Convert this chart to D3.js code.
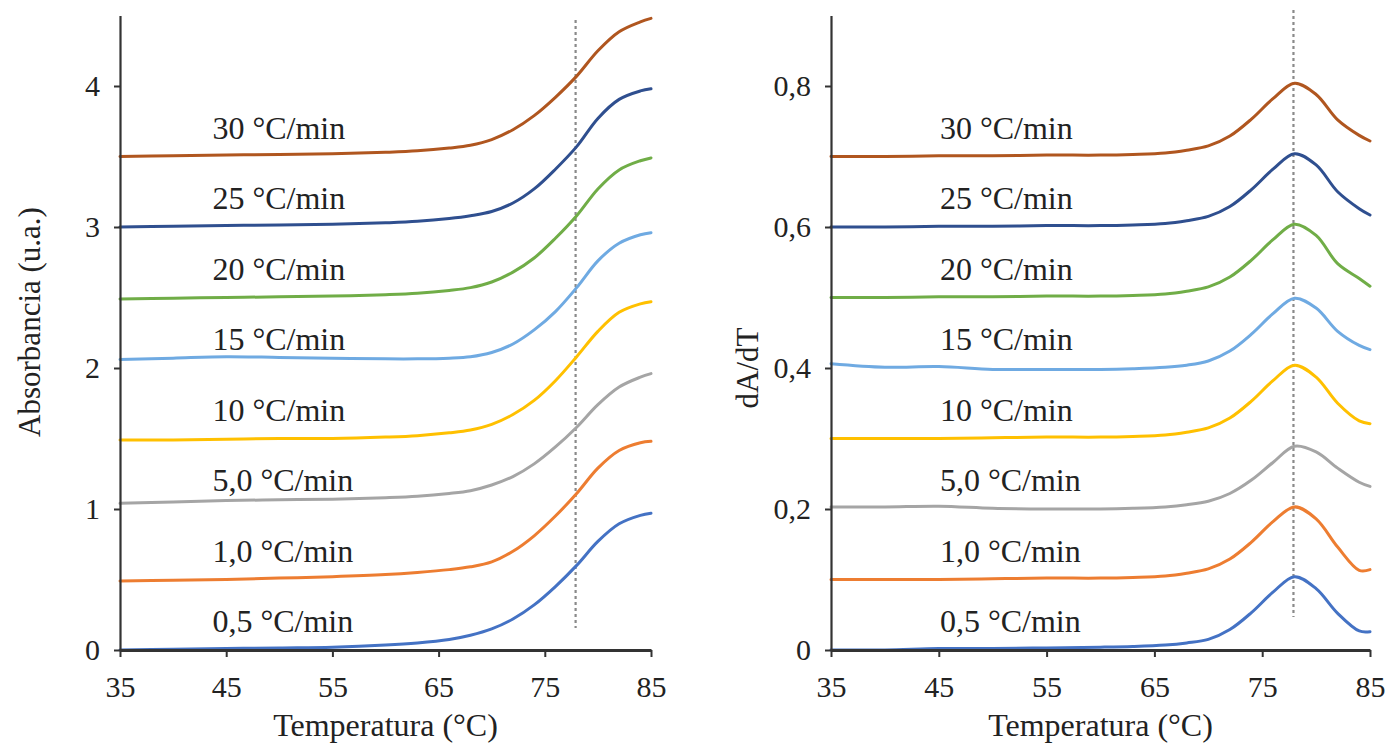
<!DOCTYPE html>
<html>
<head>
<meta charset="utf-8">
<script src="https://cdn.jsdelivr.net/npm/d3@7"></script>
<style>
  html, body { margin: 0; padding: 0; background: #fff; }
  svg { display: block; }
  text { font-family: "Liberation Serif", "Times New Roman", "DejaVu Serif", serif; fill: #222; }
</style>
</head>
<body>
<svg id="chart" width="1390" height="747"></svg>
<script>
// ---------- DATA ----------
const temps = [35, 40, 45, 50, 55, 60, 63, 66, 68, 70, 72, 74, 76, 78, 80, 82, 84, 85];
const seriesNames = ["0,5 °C/min", "1,0 °C/min", "5,0 °C/min", "10 °C/min", "15 °C/min", "20 °C/min", "25 °C/min", "30 °C/min"];
const seriesColors = ["#4472C4", "#ED7D31", "#A5A5A5", "#FFC000", "#6FAAE2", "#70AD47", "#2F4F8F", "#B0561F"];
const absLevels = [0, 0.5, 1, 1.5, 2, 2.5, 3, 3.5];
const derLevels = [0, 0.1, 0.2, 0.3, 0.4, 0.5, 0.6, 0.7];

// Absorbance (left panel)
const abs05  = [0.00, 0.005, 0.01, 0.015, 0.02, 0.035, 0.05, 0.075, 0.105, 0.15, 0.22, 0.32, 0.45, 0.60, 0.77, 0.895, 0.955, 0.97];
const abs10  = [0.49, 0.495, 0.50, 0.51, 0.52, 0.535, 0.55, 0.57, 0.59, 0.625, 0.70, 0.81, 0.95, 1.11, 1.29, 1.415, 1.47, 1.48];
const abs50  = [1.04, 1.05, 1.06, 1.065, 1.07, 1.08, 1.09, 1.11, 1.13, 1.17, 1.23, 1.32, 1.44, 1.58, 1.74, 1.865, 1.935, 1.96];
const abs100 = [1.49, 1.49, 1.495, 1.50, 1.50, 1.51, 1.52, 1.54, 1.56, 1.60, 1.67, 1.77, 1.91, 2.08, 2.26, 2.395, 2.455, 2.47];
const abs150 = [2.06, 2.07, 2.08, 2.075, 2.07, 2.065, 2.065, 2.07, 2.08, 2.11, 2.17, 2.27, 2.40, 2.57, 2.76, 2.885, 2.945, 2.96];
const abs200 = [2.49, 2.495, 2.50, 2.505, 2.51, 2.52, 2.53, 2.55, 2.57, 2.61, 2.68, 2.78, 2.92, 3.08, 3.27, 3.405, 3.47, 3.49];
const abs250 = [3.00, 3.005, 3.01, 3.015, 3.02, 3.03, 3.04, 3.06, 3.08, 3.11, 3.17, 3.27, 3.41, 3.57, 3.77, 3.905, 3.965, 3.98];
const abs300 = [3.50, 3.505, 3.51, 3.515, 3.52, 3.53, 3.54, 3.56, 3.58, 3.62, 3.69, 3.79, 3.92, 4.07, 4.25, 4.385, 4.455, 4.48];

// dA/dT (right panel)
const der05  = [0.00, 0.00, 0.002, 0.002, 0.003, 0.004, 0.005, 0.007, 0.010, 0.015, 0.029, 0.053, 0.082, 0.104, 0.087, 0.052, 0.027, 0.026];
const der10  = [0.10, 0.10, 0.10, 0.101, 0.102, 0.102, 0.103, 0.105, 0.109, 0.115, 0.129, 0.153, 0.182, 0.203, 0.186, 0.146, 0.113, 0.114];
const der50  = [0.203, 0.203, 0.204, 0.201, 0.200, 0.200, 0.201, 0.203, 0.206, 0.211, 0.222, 0.241, 0.266, 0.289, 0.281, 0.258, 0.238, 0.232];
const der100 = [0.30, 0.30, 0.30, 0.301, 0.302, 0.302, 0.303, 0.305, 0.309, 0.315, 0.329, 0.353, 0.382, 0.404, 0.387, 0.350, 0.325, 0.321];
const der150 = [0.406, 0.401, 0.402, 0.398, 0.398, 0.398, 0.399, 0.401, 0.404, 0.410, 0.424, 0.448, 0.477, 0.499, 0.485, 0.452, 0.432, 0.426];
const der200 = [0.50, 0.50, 0.501, 0.501, 0.502, 0.502, 0.503, 0.505, 0.509, 0.515, 0.529, 0.553, 0.582, 0.604, 0.588, 0.548, 0.527, 0.516];
const der250 = [0.60, 0.60, 0.601, 0.601, 0.602, 0.602, 0.603, 0.605, 0.609, 0.615, 0.629, 0.653, 0.682, 0.704, 0.688, 0.650, 0.626, 0.617];
const der300 = [0.70, 0.70, 0.701, 0.701, 0.702, 0.702, 0.703, 0.705, 0.709, 0.715, 0.729, 0.753, 0.782, 0.804, 0.788, 0.752, 0.730, 0.722];

const xTicks = [35, 45, 55, 65, 75, 85];
const absTicks = [0, 1, 2, 3, 4];
const derTicks = [0, 0.2, 0.4, 0.6, 0.8];
const peakTemp = 77.9;

const absSeries = [abs05, abs10, abs50, abs100, abs150, abs200, abs250, abs300];
const derSeries = [der05, der10, der50, der100, der150, der200, der250, der300];

// ---------- DRAW ----------
const svg = d3.select("#chart");
const FONT = '"Liberation Serif", "Times New Roman", "DejaVu Serif", serif';
const fmt = d => String(d).replace(".", ",");

function panel(opts) {
  const x = d3.scaleLinear().domain([35, 85]).range(opts.xRange);
  const y = d3.scaleLinear().domain(opts.yDomain).range([650, opts.yTop]);
  const g = svg.append("g");

  // dashed reference line
  g.append("line")
    .attr("x1", x(peakTemp)).attr("x2", x(peakTemp))
    .attr("y1", opts.dashTop).attr("y2", opts.dashBottom)
    .attr("stroke", "#8a8a8a").attr("stroke-width", 2.2)
    .attr("stroke-dasharray", "3,3");

  const line = d3.line()
    .x((d, i) => x(temps[i]))
    .y(d => y(d))
    .curve(d3.curveCatmullRom.alpha(0.5));

  opts.series.forEach((s, i) => {
    g.append("path")
      .attr("d", line(s))
      .attr("fill", "none")
      .attr("stroke", seriesColors[i])
      .attr("stroke-width", 3)
      .attr("stroke-linecap", "round");
    g.append("text")
      .attr("x", x(opts.labelT))
      .attr("y", y(opts.levels[i]) - 18)
      .style("font-family", FONT)
      .attr("font-size", 32)
      .text(seriesNames[i]);
  });

  // axes
  const yAxis = d3.axisLeft(y).tickValues(opts.yTicks).tickFormat(fmt)
    .tickSize(6).tickSizeOuter(0).tickPadding(14);
  const ya = g.append("g").attr("transform", `translate(${opts.xRange[0]},0)`).call(yAxis);
  ya.select(".domain").attr("stroke", "#333").attr("stroke-width", 2.2);
  ya.selectAll(".tick line").attr("stroke", "#333").attr("stroke-width", 2);
  ya.selectAll(".tick text").attr("font-size", 30).style("font-family", FONT).attr("fill", "#222");

  const xAxis = d3.axisBottom(x).tickValues(xTicks).tickFormat(d3.format("d"))
    .tickSize(7).tickSizeOuter(0).tickPadding(19);
  const xa = g.append("g").attr("transform", "translate(0,650)").call(xAxis);
  xa.select(".domain").attr("stroke", "#333").attr("stroke-width", 3);
  xa.selectAll(".tick line").attr("stroke", "#333").attr("stroke-width", 2);
  xa.selectAll(".tick text").attr("font-size", 30).style("font-family", FONT).attr("fill", "#222");

  // titles
  g.append("text")
    .attr("x", (opts.xRange[0] + opts.xRange[1]) / 2)
    .attr("y", 736)
    .attr("text-anchor", "middle")
    .style("font-family", FONT)
    .attr("font-size", 32)
    .text("Temperatura (°C)");
  g.append("text")
    .attr("transform", `translate(${opts.yTitleX},${opts.yTitleY}) rotate(-90)`)
    .attr("text-anchor", "middle")
    .style("font-family", FONT)
    .attr("font-size", 31)
    .text(opts.yTitle);
}

panel({
  xRange: [120, 651], yDomain: [0, 4.5], yTop: 15.5,
  series: absSeries, levels: absLevels, yTicks: absTicks,
  labelT: 43.7, dashTop: 20, dashBottom: 628,
  yTitle: "Absorbancia (u.a.)", yTitleX: 40, yTitleY: 322
});

panel({
  xRange: [831, 1370], yDomain: [0, 0.9], yTop: 15.5,
  series: derSeries, levels: derLevels, yTicks: derTicks,
  labelT: 45.1, dashTop: 10, dashBottom: 617,
  yTitle: "dA/dT", yTitleX: 758, yTitleY: 368
});
</script>
</body>
</html>
